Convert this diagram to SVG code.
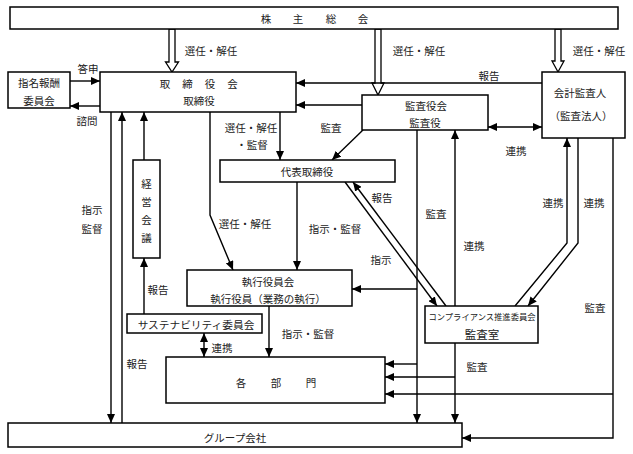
<svg xmlns="http://www.w3.org/2000/svg" width="633" height="454" viewBox="0 0 633 454">
<defs>
<marker id="ah" markerUnits="userSpaceOnUse" markerWidth="9" markerHeight="8" viewBox="0 0 9 8" refX="9" refY="4" orient="auto-start-reverse">
<path d="M0,0 L9,4 L0,8 Z" fill="#000"/>
</marker>
</defs>
<style>
text{font-family:"Noto Sans CJK JP","Noto Sans CJK SC",sans-serif;font-size:10.5px;fill:#222;text-anchor:middle;dominant-baseline:central}
.box{fill:#fff;stroke:#000;stroke-width:1.5}
.ln{fill:none;stroke:#000;stroke-width:1.4}
.hol{fill:#fff;stroke:#000;stroke-width:1.3}
.sm{font-size:8.3px}
</style>
<rect width="633" height="454" fill="#fff"/>

<g id="connectors">
<polygon class="hol" points="169,29 169,62 165.5,62 172,72 178.5,62 175,62 175,29"/>
<polygon class="hol" points="375,29 375,83 372,83 378,95 384,83 381,83 381,29"/>
<polygon class="hol" points="555,29 555,61 552,61 558,72 564,61 561,61 561,29"/>
<line class="ln" x1="70" y1="81" x2="100" y2="81" marker-end="url(#ah)"/>
<line class="ln" x1="100" y1="106" x2="70" y2="106" marker-end="url(#ah)"/>
<line class="ln" x1="542" y1="83" x2="296" y2="83" marker-end="url(#ah)"/>
<line class="ln" x1="362" y1="105" x2="296" y2="105" marker-end="url(#ah)"/>
<line class="ln" x1="488" y1="127" x2="542" y2="127" marker-start="url(#ah)" marker-end="url(#ah)"/>
<line class="ln" x1="280" y1="112" x2="280" y2="160" marker-end="url(#ah)"/>
<polyline class="ln" points="210,112 210,215 233,270" marker-end="url(#ah)"/>
<line class="ln" x1="363" y1="130" x2="332" y2="160" marker-end="url(#ah)"/>
<line class="ln" x1="297" y1="182" x2="297" y2="270" marker-end="url(#ah)"/>
<line class="ln" x1="345" y1="182" x2="437" y2="306" marker-end="url(#ah)"/>
<line class="ln" x1="446" y1="306" x2="353" y2="182" marker-end="url(#ah)"/>
<line class="ln" x1="417" y1="130" x2="417" y2="423" marker-end="url(#ah)"/>
<line class="ln" x1="417" y1="289" x2="352" y2="289" marker-end="url(#ah)"/>
<line class="ln" x1="417" y1="364" x2="385" y2="364" marker-end="url(#ah)"/>
<line class="ln" x1="455" y1="306" x2="455" y2="130" marker-end="url(#ah)"/>
<line class="ln" x1="455" y1="343" x2="455" y2="423" marker-end="url(#ah)"/>
<line class="ln" x1="455" y1="377" x2="385" y2="377" marker-end="url(#ah)"/>
<polyline class="ln" points="515,306 567,243 567,138" marker-end="url(#ah)"/>
<polyline class="ln" points="578,138 578,243 528,306" marker-end="url(#ah)"/>
<polyline class="ln" points="613,138 613,438 462,438" marker-end="url(#ah)"/>
<line class="ln" x1="613" y1="394" x2="385" y2="394" marker-end="url(#ah)"/>
<line class="ln" x1="111" y1="112" x2="111" y2="423" marker-end="url(#ah)"/>
<line class="ln" x1="122" y1="423" x2="122" y2="112" marker-end="url(#ah)"/>
<line class="ln" x1="144" y1="160" x2="144" y2="112" marker-end="url(#ah)"/>
<line class="ln" x1="144" y1="314" x2="144" y2="258" marker-end="url(#ah)"/>
<line class="ln" x1="204" y1="333" x2="204" y2="357" marker-start="url(#ah)" marker-end="url(#ah)"/>
<line class="ln" x1="269" y1="306" x2="269" y2="357" marker-end="url(#ah)"/>
</g>

<g id="labels">
<text x="211" y="50">選任・解任</text>
<text x="419" y="50">選任・解任</text>
<text x="599" y="50">選任・解任</text>
<text x="88" y="68">答申</text>
<text x="87" y="120">諮問</text>
<text x="489" y="75">報告</text>
<text x="331" y="127">監査</text>
<text x="251" y="127">選任・解任</text>
<text x="252" y="144">・監督</text>
<text x="516" y="150">連携</text>
<text x="553" y="202">連携</text>
<text x="594" y="202">連携</text>
<text x="382" y="197">報告</text>
<text x="436" y="213">監査</text>
<text x="381" y="259">指示</text>
<text x="474" y="245">連携</text>
<text x="595" y="307">監査</text>
<text x="335" y="228">指示・監督</text>
<text x="245" y="223">選任・解任</text>
<text x="92" y="209">指示</text>
<text x="92" y="228">監督</text>
<text x="158" y="289">報告</text>
<text x="308" y="333">指示・監督</text>
<text x="222" y="347">連携</text>
<text x="137" y="363">報告</text>
<text x="477" y="366">監査</text>
</g>

<g id="shareholders">
<rect class="box" x="10" y="7" width="608" height="22"/>
<text x="266" y="18">株</text><text x="298" y="18">主</text><text x="331" y="18">総</text><text x="363" y="18">会</text>
</g>
<g id="board">
<rect class="box" x="100" y="72" width="196" height="40"/>
<text x="165" y="83">取</text><text x="187.5" y="83">締</text><text x="210" y="83">役</text><text x="232.5" y="83">会</text>
<text x="199" y="100">取締役</text>
</g>
<g id="nomination">
<rect class="box" x="8" y="72" width="62" height="36"/>
<text x="39" y="82">指名報酬</text>
<text x="39" y="100">委員会</text>
</g>
<g id="auditboard">
<rect class="box" x="362" y="95" width="126" height="35"/>
<text x="426" y="105">監査役会</text>
<text x="425" y="122">監査役</text>
</g>
<g id="accountingauditor">
<rect class="box" x="542" y="72" width="83" height="66"/>
<text x="580" y="92">会計監査人</text>
<text x="581" y="115">（監査法人）</text>
</g>
<g id="representative">
<rect class="box" x="220" y="160" width="175" height="22"/>
<text x="307" y="171">代表取締役</text>
</g>
<g id="management">
<rect class="box" x="133" y="160" width="27" height="98"/>
<text x="146.5" y="183">経</text><text x="146.5" y="201">営</text><text x="146.5" y="219">会</text><text x="146.5" y="237">議</text>
</g>
<g id="executive">
<rect class="box" x="187" y="270" width="165" height="36"/>
<text x="268" y="281">執行役員会</text>
<text x="268" y="298">執行役員（業務の執行）</text>
</g>
<g id="sustainability">
<rect class="box" x="127" y="314" width="135" height="19"/>
<text x="196" y="324" style="font-size:10.7px">サステナビリティ委員会</text>
</g>
<g id="compliance">
<rect class="box" x="425" y="306" width="113" height="37"/>
<text class="sm" x="482" y="316">コンプライアンス推進委員会</text>
<text x="482" y="334" style="font-size:11.5px">監査室</text>
</g>
<g id="departments">
<rect class="box" x="166" y="357" width="219" height="46"/>
<text x="241" y="382">各</text><text x="276" y="382">部</text><text x="311" y="382">門</text>
</g>
<g id="group">
<rect class="box" x="8" y="423" width="454" height="24"/>
<text x="235" y="437">グループ会社</text>
</g>
</svg>
